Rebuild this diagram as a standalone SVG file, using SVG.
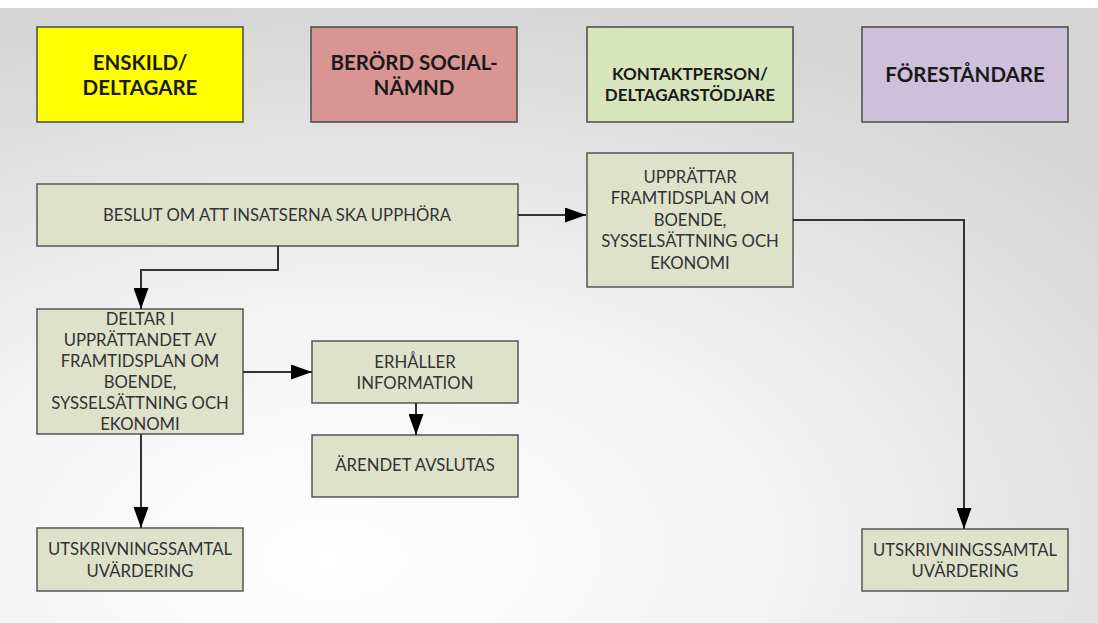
<svg xmlns="http://www.w3.org/2000/svg" width="1098" height="623" viewBox="0 0 1098 623">
  <defs>
    <radialGradient id="bg" cx="0.35" cy="0.85" r="0.85" fx="0.3" fy="0.9">
      <stop offset="0" stop-color="#ffffff"/>
      <stop offset="0.45" stop-color="#f3f3f3"/>
      <stop offset="1" stop-color="#d6d6d6"/>
    </radialGradient>
    <marker id="arrow" viewBox="0 0 21 15" refX="21" refY="7.5" markerWidth="21" markerHeight="15" markerUnits="userSpaceOnUse" orient="auto">
      <path d="M0,0 L21,7.5 L0,15 Z" fill="#000"/>
    </marker>
    <style>
      .hdr { stroke: #4a4a4a; stroke-width: 1.5; }
      .box { fill: #dee2cb; stroke: #555; stroke-width: 1.5; }
      .ht { font-family: Lato, "Liberation Sans", sans-serif; font-weight: bold; fill: #1a1a1a; text-anchor: middle; }
      .bt { font-family: Lato, "Liberation Sans", sans-serif; font-size: 16.7px; fill: #333; text-anchor: middle; }
      .conn { fill: none; stroke: #333; stroke-width: 2; }
    </style>
  </defs>

  <!-- backdrop -->
  <rect x="0" y="0" width="1098" height="623" fill="url(#bg)"/>
  <rect x="0" y="0" width="1098" height="8" fill="#ffffff"/>

  <!-- column headers -->
  <g id="hdr-enskild">
    <rect class="hdr" x="37" y="27" width="206" height="95" fill="#ffff00"/>
    <text class="ht" font-size="20.5" x="140" y="70">ENSKILD/</text>
    <text class="ht" font-size="20.5" x="140" y="95">DELTAGARE</text>
  </g>
  <g id="hdr-socialnamnd">
    <rect class="hdr" x="311" y="27" width="206" height="95" fill="#d99594"/>
    <text class="ht" font-size="20.5" x="414" y="70">BERÖRD SOCIAL-</text>
    <text class="ht" font-size="20.5" x="414" y="95">NÄMND</text>
  </g>
  <g id="hdr-kontaktperson">
    <rect class="hdr" x="587" y="27" width="206" height="95" fill="#d7e4bc"/>
    <text class="ht" font-size="17" x="690" y="80">KONTAKTPERSON/</text>
    <text class="ht" font-size="17" x="690" y="101">DELTAGARSTÖDJARE</text>
  </g>
  <g id="hdr-forestandare">
    <rect class="hdr" x="862" y="27" width="206" height="95" fill="#ccc0da"/>
    <text class="ht" font-size="20.5" x="965" y="82">FÖRESTÅNDARE</text>
  </g>

  <!-- process steps -->
  <g id="beslut">
    <rect class="box" x="37" y="184" width="481" height="62"/>
    <text class="bt" x="277" y="221">BESLUT OM ATT INSATSERNA SKA UPPHÖRA</text>
  </g>
  <g id="upprattar">
    <rect class="box" x="587" y="153" width="206" height="134"/>
    <text class="bt" x="690" y="183">UPPRÄTTAR</text>
    <text class="bt" x="690" y="204">FRAMTIDSPLAN OM</text>
    <text class="bt" x="690" y="226">BOENDE,</text>
    <text class="bt" x="690" y="247">SYSSELSÄTTNING OCH</text>
    <text class="bt" x="690" y="269">EKONOMI</text>
  </g>
  <g id="deltar">
    <rect class="box" x="37" y="309" width="206" height="125"/>
    <text class="bt" x="140" y="325">DELTAR I</text>
    <text class="bt" x="140" y="346">UPPRÄTTANDET AV</text>
    <text class="bt" x="140" y="367">FRAMTIDSPLAN OM</text>
    <text class="bt" x="140" y="388">BOENDE,</text>
    <text class="bt" x="140" y="409">SYSSELSÄTTNING OCH</text>
    <text class="bt" x="140" y="430">EKONOMI</text>
  </g>
  <g id="erhaller">
    <rect class="box" x="312" y="341" width="206" height="62"/>
    <text class="bt" x="415" y="368">ERHÅLLER</text>
    <text class="bt" x="415" y="389">INFORMATION</text>
  </g>
  <g id="arendet">
    <rect class="box" x="312" y="435" width="206" height="62"/>
    <text class="bt" x="415" y="471">ÄRENDET AVSLUTAS</text>
  </g>
  <g id="utskrivning-1">
    <rect class="box" x="37" y="528" width="206" height="63"/>
    <text class="bt" x="140" y="555">UTSKRIVNINGSSAMTAL</text>
    <text class="bt" x="140" y="577">UVÄRDERING</text>
  </g>
  <g id="utskrivning-2">
    <rect class="box" x="862" y="529" width="206" height="62"/>
    <text class="bt" x="965" y="556">UTSKRIVNINGSSAMTAL</text>
    <text class="bt" x="965" y="577">UVÄRDERING</text>
  </g>

  <!-- connectors -->
  <g id="connectors">
    <path class="conn" marker-end="url(#arrow)" d="M518,215 H586"/>
    <path class="conn" marker-end="url(#arrow)" d="M278,246 V270 H141 V309"/>
    <path class="conn" marker-end="url(#arrow)" d="M243,372 H312"/>
    <path class="conn" marker-end="url(#arrow)" d="M416,403 V435"/>
    <path class="conn" marker-end="url(#arrow)" d="M141,434 V528"/>
    <path class="conn" marker-end="url(#arrow)" d="M793,220 H964 V529"/>
  </g>
</svg>
